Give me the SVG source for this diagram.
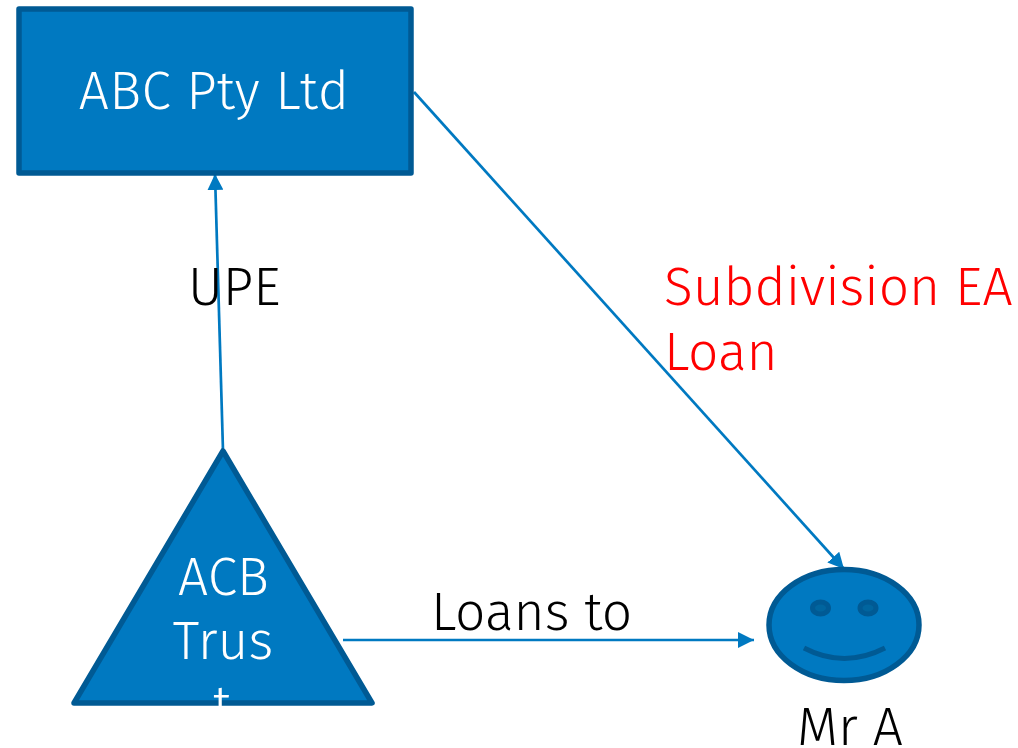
<svg xmlns="http://www.w3.org/2000/svg" width="1018" height="748" viewBox="0 0 1018 748">
<defs><marker id="a" markerUnits="userSpaceOnUse" markerWidth="16" markerHeight="16" refX="16" refY="8" orient="auto"><path d="M0 0L16 8L0 16Z" fill="#0079c1"/></marker></defs>
<style>
.t{font-family:"Fira Sans","Open Sans","Noto Sans","Liberation Sans",sans-serif;font-weight:300;font-size:53.3px}
.s{fill:#0079c1;stroke:#005a94;stroke-width:5.5;stroke-linejoin:round}
.c{fill:none;stroke:#0079c1;stroke-width:2.7;marker-end:url(#a)}
.e{fill:#00659f;stroke:#005a94;stroke-width:5}
</style>
<rect width="1018" height="748" fill="#fff"/>
<g id="connectors">
<path class="c" d="M223 451L215 174"/>
<path class="c" d="M414 92L844 569"/>
<path class="c" d="M343 640L754 640"/>
</g>
<g id="abc"><rect class="s" x="19" y="9" width="392" height="164"/><text class="t" x="214" y="109" text-anchor="middle" fill="#fff" letter-spacing="0.3">ABC Pty Ltd</text></g>
<g id="trust"><path class="s" d="M223 451L372 703H74Z"/><text class="t" x="223.500" y="595" text-anchor="middle" fill="#fff">ACB</text><text class="t" x="223" y="659" text-anchor="middle" fill="#fff">Trus</text><text class="t" x="222" y="723" text-anchor="middle" fill="#fff">t</text></g>
<g id="mra"><ellipse class="s" cx="844" cy="625" rx="75" ry="55.500"/><ellipse class="e" cx="820.500" cy="608" rx="8" ry="6"/><ellipse class="e" cx="868" cy="608" rx="8" ry="6"/><path d="M804 648Q844 669 885 648" fill="none" stroke="#005a94" stroke-width="5"/><text class="t" x="850" y="745" text-anchor="middle">Mr A</text></g>
<g id="labels">
<text class="t" x="188" y="305">UPE</text>
<text class="t" x="664" y="305" fill="#f00">Subdivision EA</text>
<text class="t" x="664" y="370" fill="#f00">Loan</text>
<text class="t" x="431" y="630">Loans to</text>
</g>
</svg>
